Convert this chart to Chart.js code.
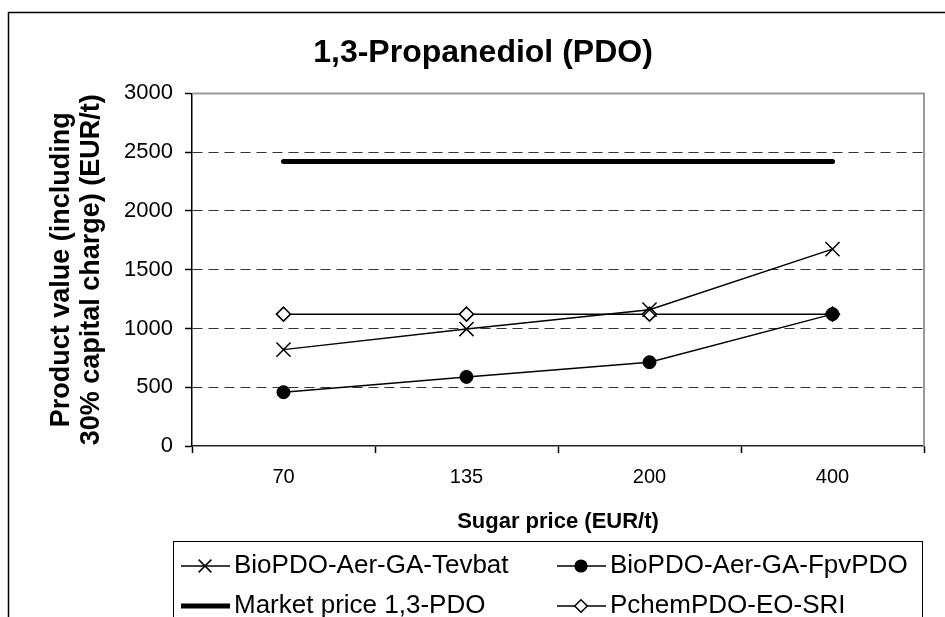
<!DOCTYPE html>
<html>
<head>
<meta charset="utf-8">
<script src="https://cdn.jsdelivr.net/npm/chart.js@4.4.1/dist/chart.umd.min.js"></script>
<style>
  html, body { margin: 0; padding: 0; background: #fff; }
  #wrap { width: 945px; height: 617px; }
</style>
</head>
<body>
<div id="wrap"><canvas id="pdoChart" width="945" height="617"></canvas></div>
<script>
/* global Chart:false */

var sugarPrices = ["70", "135", "200", "400"];
var tevbatValues = [820, 995, 1160, 1675];
var fpvpdoValues = [458, 588, 713, 1122];
var marketValues = [2420, 2420, 2420, 2420];
var pchemValues = [1122, 1122, 1122, 1122];
var yMin = 0;
var yMax = 3000;
var yStep = 500;

var fontFamily = "'Liberation Sans', Arial, sans-serif";

// frame lines + the boxed two-column legend
var frameAndLegend = {
  id: "frameAndLegend",
  afterDraw: function (chart) {
    var ctx = chart.ctx;
    var area = chart.chartArea;
    ctx.save();

    // plot border (top and right)
    ctx.strokeStyle = "#999999";
    ctx.lineWidth = 2;
    ctx.beginPath();
    ctx.moveTo(area.left, area.top);
    ctx.lineTo(area.right, area.top);
    ctx.lineTo(area.right, area.bottom);
    ctx.stroke();

    // outer chart frame, only left and top edges are visible
    ctx.strokeStyle = "#000";
    ctx.lineWidth = 1.5;
    ctx.beginPath();
    ctx.moveTo(8.5, 700);
    ctx.lineTo(8.5, 12.5);
    ctx.lineTo(960, 12.5);
    ctx.stroke();

    // legend box
    ctx.lineWidth = 1;
    ctx.strokeRect(173.5, 541.5, 749, 120);

    var cols = [181, 557];
    var rows = [566, 606];
    ctx.font = "26px " + fontFamily;
    ctx.textBaseline = "middle";
    ctx.textAlign = "left";
    chart.data.datasets.forEach(function (ds, i) {
      var x = cols[i % 2];
      var y = rows[Math.floor(i / 2)];
      ctx.strokeStyle = ds.borderColor;
      ctx.lineWidth = ds.borderWidth;
      ctx.lineCap = "butt";
      ctx.beginPath();
      ctx.moveTo(x, y);
      ctx.lineTo(x + 49, y);
      ctx.stroke();
      if (ds.pointRadius > 0) {
        ctx.fillStyle = ds.pointBackgroundColor;
        ctx.strokeStyle = ds.pointBorderColor;
        Chart.helpers.drawPoint(ctx, {
          pointStyle: ds.pointStyle,
          radius: ds.pointRadius * 0.9,
          borderWidth: ds.pointBorderWidth,
          rotation: 0,
        }, x + 24, y);
      }
      ctx.fillStyle = "#000";
      ctx.fillText(ds.label, x + 53, y);
    });
    ctx.restore();
  },
};

var ctx = document.getElementById("pdoChart").getContext("2d");
new Chart(ctx, {
  type: "line",
  data: {
    labels: sugarPrices,
    datasets: [
      {
        label: "BioPDO-Aer-GA-Tevbat",
        data: tevbatValues,
        borderColor: "#000",
        borderWidth: 1.5,
        pointStyle: "crossRot",
        pointRadius: 10,
        pointBorderWidth: 1.5,
        pointBorderColor: "#000",
        pointBackgroundColor: "#000",
        tension: 0,
      },
      {
        label: "BioPDO-Aer-GA-FpvPDO",
        data: fpvpdoValues,
        borderColor: "#000",
        borderWidth: 1.5,
        pointStyle: "circle",
        pointRadius: 6.5,
        pointBorderWidth: 1,
        pointBorderColor: "#000",
        pointBackgroundColor: "#000",
        tension: 0,
      },
      {
        label: "Market price 1,3-PDO",
        data: marketValues,
        borderColor: "#000",
        borderWidth: 5,
        borderCapStyle: "round",
        pointRadius: 0,
        tension: 0,
      },
      {
        label: "PchemPDO-EO-SRI",
        data: pchemValues,
        borderColor: "#000",
        borderWidth: 1.5,
        pointStyle: "rectRot",
        pointRadius: 7,
        pointBorderWidth: 1.5,
        pointBorderColor: "#000",
        pointBackgroundColor: "#fff",
        tension: 0,
      },
    ],
  },
  options: {
    responsive: false,
    animation: false,
    layout: {
      padding: { left: 42, right: 21, top: 14, bottom: 76 },
    },
    plugins: {
      legend: { display: false },
      tooltip: { enabled: false },
      title: {
        display: true,
        text: "1,3-Propanediol (PDO)",
        color: "#000",
        font: { family: fontFamily, size: 32, weight: "bold" },
        padding: { top: 20, bottom: 21 },
      },
    },
    scales: {
      x: {
        type: "category",
        offset: true,
        grid: {
          offset: true,
          drawOnChartArea: false,
          tickLength: 7,
          tickColor: "#000",
          tickWidth: 1.5,
        },
        border: { color: "#222", width: 1.5 },
        ticks: {
          color: "#000",
          font: { family: fontFamily, size: 20 },
          padding: 12,
          maxRotation: 0,
        },
        title: {
          display: true,
          text: "Sugar price (EUR/t)",
          color: "#000",
          font: { family: fontFamily, size: 22, weight: "bold" },
          padding: { top: 0, bottom: 6 },
        },
        afterFit: function (scale) {
          scale.height = 95;
        },
      },
      y: {
        min: yMin,
        max: yMax,
        ticks: {
          stepSize: yStep,
          padding: 12,
          color: "#000",
          font: { family: fontFamily, size: 22 },
          callback: function (value) {
            return String(value);
          },
        },
        grid: {
          color: function (c) {
            var v = c.tick ? c.tick.value : null;
            return v === yMin || v === yMax ? "rgba(0,0,0,0)" : "#333";
          },
          lineWidth: 1,
          tickLength: 7,
          tickColor: "#000",
          tickWidth: 1.5,
        },
        border: { color: "#000", width: 1.5, dash: [10, 6] },
        title: {
          display: true,
          text: ["Product value (including", "30% capital charge) (EUR/t)"],
          color: "#000",
          font: { family: fontFamily, size: 27, weight: "bold", lineHeight: 1.12 },
          padding: { top: 4, bottom: 0 },
        },
        afterFit: function (scale) {
          scale.width = 150;
        },
      },
    },
  },
  plugins: [frameAndLegend],
});
</script>
</body>
</html>
